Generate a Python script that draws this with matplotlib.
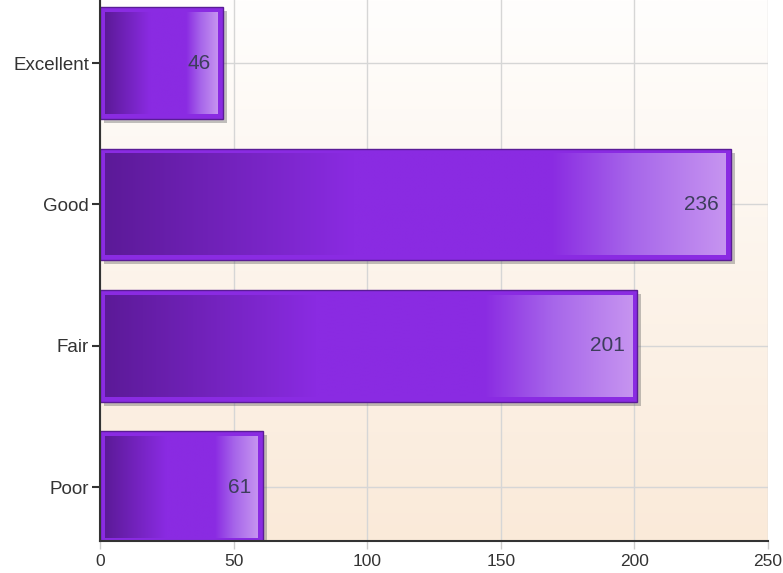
import numpy as np
import matplotlib
matplotlib.use("Agg")
import matplotlib.pyplot as plt
from matplotlib.colors import LinearSegmentedColormap
import matplotlib.patheffects as pe

categories = ["Excellent", "Good", "Fair", "Poor"]
values = [46, 236, 201, 61]
xticks = [0, 50, 100, 150, 200, 250]

plt.rcParams['font.family'] = ['Liberation Sans', 'DejaVu Sans']

W, H = 783, 573
fig = plt.figure(figsize=(W / 100, H / 100), dpi=100)
left, right, bottom, top = 100, 768, 541, 0
ax = fig.add_axes([left / W, (H - bottom) / H, (right - left) / W, (bottom - top) / H])

n = len(categories)
ypos = np.arange(n)[::-1]  # Excellent on top
ax.set_xlim(0, 250)
ax.set_ylim(-0.382, 3.446)

# background gradient
bg = LinearSegmentedColormap.from_list("bg", ["#faead9", "#fffefd"])
grad = np.linspace(0, 1, 256).reshape(-1, 1)
ax.imshow(grad, cmap=bg, aspect="auto", extent=[0, 1, 0, 1], transform=ax.transAxes,
          origin="lower", zorder=0)

# grid
for xt in xticks:
    ax.axvline(xt, color="#d6d6d6", lw=1, zorder=1)
for y in ypos:
    ax.axhline(y, color="#d6d6d6", lw=1, zorder=1)

barcmap = LinearSegmentedColormap.from_list(
    "bar", [(0, "#5c1a98"), (0.4, "#8a2be2"), (0.72, "#8a2be2"), (0.85, "#a766ea"), (1.0, "#c694f0")])

h = 0.79
px_x = 250 / (right - left)
px_y = (3.446 + 0.382) / (bottom - top)
ix, iy = 5 * px_x, 5 * px_y
g = np.linspace(0, 1, 256).reshape(1, -1)
for y, v in zip(ypos, values):
    ax.barh(y, v, height=h, color="#8a2be2", edgecolor="#5a1c96", lw=1, zorder=3,
            path_effects=[pe.SimplePatchShadow(offset=(3, -3), shadow_rgbFace="#666666", alpha=0.4),
                          pe.Normal()])
    ax.imshow(g, cmap=barcmap, aspect="auto",
              extent=[ix, v - ix, y - h / 2 + iy, y + h / 2 - iy], zorder=4, interpolation="bilinear")
    ax.text(v - ix - 7 * px_x, y, str(v), ha="right", va="center", fontsize=15,
            color="#3d3d5c", zorder=5)

ax.set_xlim(0, 250)
ax.set_ylim(-0.382, 3.446)
ax.set_yticks(ypos)
ax.set_yticklabels(categories)
ax.set_xticks(xticks)
for s in ["top", "right"]:
    ax.spines[s].set_visible(False)
for s in ["left", "bottom"]:
    ax.spines[s].set_color("#333333")
    ax.spines[s].set_linewidth(1.5)
    ax.spines[s].set_zorder(6)
ax.tick_params(axis="y", length=6, width=1.5, color="#333333", labelsize=13.5, labelcolor="#333333", pad=2)
ax.tick_params(axis="x", length=6, width=1, color="#cccccc", labelsize=12.5, labelcolor="#333333", pad=3)

fig.savefig("out.png", dpi=100)
